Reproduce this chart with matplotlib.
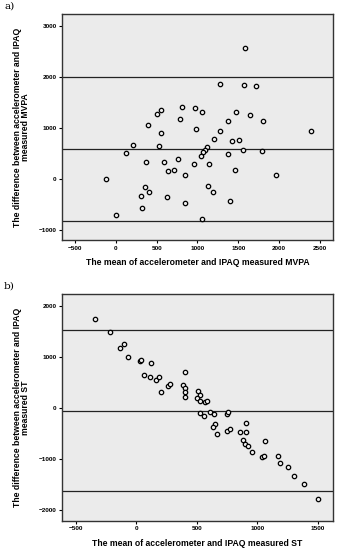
import matplotlib.pyplot as plt
import numpy as np

# panel a: MVPA Bland-Altman (mean, difference)
mvpa_mean = [1581, 1270, 1569, 1720, 547, 507, 805, 968, 1050, 1467, 1646, 780,
             1377, 1801, 396, 984, 1279, 547, 2394, 1507, 1426, 1201, 204, 523,
             1119, 1094, 1070, 1038, 127, 1560, 1789, 1376, 368, 592, 760, 960,
             1140, 637, 711, 1462, 850, 1961, -127, 1123, 355, 400, 1189, 306,
             629, 1401, 850, 315, -4, 1054]
mvpa_diff = [2562, 1856, 1837, 1824, 1353, 1281, 1412, 1399, 1320, 1314, 1261, 1170,
             1137, 1144, 1052, 974, 941, 902, 935, 758, 745, 778, 673, 647,
             622, 569, 524, 457, 516, 569, 542, 490, 340, 327, 399, 301,
             301, 150, 176, 170, 78, 78, 7, -131, -157, -248, -261, -333,
             -359, -438, -464, -575, -699, -778]
mvpa_limits = [1990, 582, -817]

# panel b: ST Bland-Altman (mean, difference)
st_mean = [-347, -217, -135, -105, -66, 33, 39, 121, 66, 116, 165, 190, 204, 259,
           280, 402, 388, 402, 400, 400, 506, 526, 498, 526, 567, 586,
           526, 561, 608, 644, 746, 760, 650, 630, 663, 746, 773, 905, 856, 905,
           878, 897, 927, 960, 1062, 1037, 1054, 1172, 1189, 1252, 1302, 1387, 1503]
st_diff = [1745, 1477, 1176, 1242, 987, 915, 935, 876, 636, 608, 540, 592, 305, 420,
           462, 702, 444, 380, 300, 203, 327, 248, 184, 131, 106, 131,
           -110, -157, -78, -124, -124, -90, -326, -373, -513, -457, -418, -293, -476, -483,
           -633, -705, -744, -862, -659, -973, -947, -947, -1091, -1169, -1333, -1490, -1784]
st_limits = [1518, -60, -1633]

fig = plt.figure(figsize=(3.37, 5.5), dpi=100)
bg = '#ebebeb'
lab_font = dict(family='Liberation Sans', fontweight='bold', fontsize=6.2)


def ba_panel(rect, x, y, limits, xlim, ylim, xticks, yticks, what):
    ax = fig.add_axes(rect)
    ax.set_facecolor(bg)
    for lim in limits:
        ax.axhline(lim, color='#222222', lw=0.9, zorder=1)
    ax.scatter(x, y, s=10, facecolor=bg, edgecolor='black', linewidths=0.9, zorder=3)
    ax.set_xlim(xlim)
    ax.set_ylim(ylim)
    ax.set_xticks(xticks)
    ax.set_yticks(yticks)
    ax.tick_params(direction='out', length=2, width=0.8, labelsize=4.6, pad=2)
    for t in ax.get_xticklabels() + ax.get_yticklabels():
        t.set_fontweight('bold')
        t.set_family('Liberation Sans')
    for s in ax.spines.values():
        s.set_linewidth(1.0)
        s.set_color('#333333')
    ax.set_xlabel('The mean of accelerometer and IPAQ measured ' + what,
                  labelpad=5.5, **lab_font)
    ax.set_ylabel('The difference between accelerometer and IPAQ\nmeasured ' + what,
                  labelpad=6, linespacing=0.95, **lab_font)
    return ax


ax1 = ba_panel([0.184, 0.5636, 0.804, 0.411], mvpa_mean, mvpa_diff, mvpa_limits,
               (-660, 2660), (-1196, 3235), [-500, 0, 500, 1000, 1500, 2000, 2500],
               [-1000, 0, 1000, 2000, 3000], 'MVPA')
ax2 = ba_panel([0.184, 0.0533, 0.804, 0.4117], st_mean, st_diff, st_limits,
               (-616, 1626), (-2216, 2224), [-500, 0, 500, 1000, 1500],
               [-2000, -1000, 0, 1000, 2000], 'ST')

fig.text(0.012, 0.997, 'a)', family='DejaVu Serif', fontsize=7.5, va='top')
fig.text(0.012, 0.488, 'b)', family='DejaVu Serif', fontsize=7.5, va='top')

fig.savefig('out.png', dpi=100)
